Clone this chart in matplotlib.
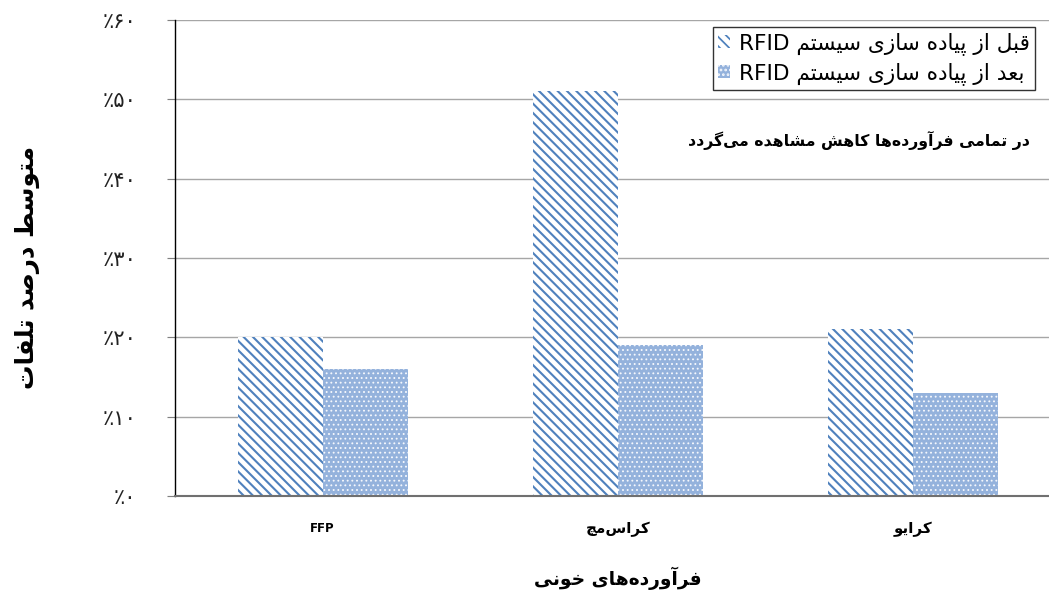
import matplotlib
matplotlib.use("Agg")
import matplotlib.pyplot as plt
import numpy as np

# ---------------- data ----------------
categories = ["FFP", "کراس‌مچ", "کرایو"]
before_rfid = [0.20, 0.51, 0.21]
after_rfid = [0.16, 0.19, 0.13]
y_ticks = [0.0, 0.1, 0.2, 0.3, 0.4, 0.5, 0.6]
y_tick_labels = ["٪۰", "٪۱۰", "٪۲۰", "٪۳۰", "٪۴۰", "٪۵۰", "٪۶۰"]
legend_before = "قبل از پیاده سازی سیستم"
legend_after = "بعد از پیاده سازی سیستم"
legend_suffix = "RFID"
note_text = "در تمامی فرآورده‌ها کاهش مشاهده می‌گردد"
x_title = "فرآورده‌های خونی"
y_title = "متوسط درصد تلفات"

# ------------- minimal Persian shaping -------------
FORMS = {
    '\u0627': ('\uFE8D', '\uFE8E', None, None),
    '\u0622': ('\uFE81', '\uFE82', None, None),
    '\u0628': ('\uFE8F', '\uFE90', '\uFE91', '\uFE92'),
    '\u067E': ('\uFB56', '\uFB57', '\uFB58', '\uFB59'),
    '\u062A': ('\uFE95', '\uFE96', '\uFE97', '\uFE98'),
    '\u0686': ('\uFB7A', '\uFB7B', '\uFB7C', '\uFB7D'),
    '\u062E': ('\uFEA5', '\uFEA6', '\uFEA7', '\uFEA8'),
    '\u062F': ('\uFEA9', '\uFEAA', None, None),
    '\u0631': ('\uFEAD', '\uFEAE', None, None),
    '\u0632': ('\uFEAF', '\uFEB0', None, None),
    '\u0633': ('\uFEB1', '\uFEB2', '\uFEB3', '\uFEB4'),
    '\u0634': ('\uFEB5', '\uFEB6', '\uFEB7', '\uFEB8'),
    '\u0635': ('\uFEB9', '\uFEBA', '\uFEBB', '\uFEBC'),
    '\u0637': ('\uFEC1', '\uFEC2', '\uFEC3', '\uFEC4'),
    '\u0639': ('\uFEC9', '\uFECA', '\uFECB', '\uFECC'),
    '\u0641': ('\uFED1', '\uFED2', '\uFED3', '\uFED4'),
    '\u0642': ('\uFED5', '\uFED6', '\uFED7', '\uFED8'),
    '\u06A9': ('\uFB8E', '\uFB8F', '\uFB90', '\uFB91'),
    '\u06AF': ('\uFB92', '\uFB93', '\uFB94', '\uFB95'),
    '\u0644': ('\uFEDD', '\uFEDE', '\uFEDF', '\uFEE0'),
    '\u0645': ('\uFEE1', '\uFEE2', '\uFEE3', '\uFEE4'),
    '\u0646': ('\uFEE5', '\uFEE6', '\uFEE7', '\uFEE8'),
    '\u0647': ('\uFEE9', '\uFEEA', '\uFEEB', '\uFEEC'),
    '\u0648': ('\uFEED', '\uFEEE', None, None),
    '\u06CC': ('\uFBFC', '\uFBFD', '\uFBFE', '\uFBFF'),
}


def fa(text):
    chars = list(text)
    out = []
    for i, c in enumerate(chars):
        if c == '\u200c':
            continue
        if c not in FORMS:
            out.append(c)
            continue
        iso, fin, ini, med = FORMS[c]
        prev = chars[i - 1] if i > 0 else None
        nxt = chars[i + 1] if i + 1 < len(chars) else None
        jp = prev in FORMS and FORMS[prev][2] is not None
        jn = nxt in FORMS and ini is not None
        if jp and jn:
            out.append(med)
        elif jp:
            out.append(fin)
        elif jn:
            out.append(ini)
        else:
            out.append(iso)
    return ''.join(out)[::-1]


def label(text):
    if all(ord(ch) < 128 for ch in text):
        return text
    return fa(text)


# ---------------- figure ----------------
DPI = 84
W, H = 1049, 590
fig = plt.figure(figsize=(W / DPI, H / DPI), dpi=DPI)
ax = fig.add_axes([175 / W, (H - 496) / H, 886 / W, 476 / H])

x = np.arange(len(categories))
bw = 0.288
blue = '#4f81bd'

plt.rcParams['hatch.linewidth'] = 1.8
b1 = ax.bar(x - bw / 2, before_rfid, bw, facecolor='white', edgecolor=blue,
            hatch='\\\\\\', linewidth=0, zorder=2)
plt.rcParams['hatch.linewidth'] = 0.9
b2 = ax.bar(x + bw / 2, after_rfid, bw, facecolor='#94b2dc', edgecolor='#f4f7fc',
            hatch='...', linewidth=0, zorder=2)

ax.set_xlim(-0.5, 2.5)
ax.set_ylim(0, 0.6)
ax.set_yticks(y_ticks)
ax.set_yticklabels(y_tick_labels, fontsize=18, family=['DejaVu Sans'], color='#222222')
ax.tick_params(axis='y', length=7, width=1, color='#808080', pad=26)
ax.set_xticks(x)
ax.set_xticklabels([label(c) for c in categories], fontweight='bold',
                   family=['DejaVu Sans'])
for t, c in zip(ax.get_xticklabels(), categories):
    t.set_fontsize(10 if c.isascii() else 13)
ax.tick_params(axis='x', length=0, pad=22)

ax.yaxis.grid(True, color='#a6a6a6', linewidth=1.2, zorder=0)
ax.set_axisbelow(True)
for s in ['top', 'right']:
    ax.spines[s].set_visible(False)
ax.spines['left'].set_color('black')
ax.spines['left'].set_linewidth(1.2)
ax.spines['bottom'].set_color('#707070')
ax.spines['bottom'].set_linewidth(1.8)

# legend
plt.rcParams['hatch.linewidth'] = 1.5
leg = ax.legend([b1, b2],
                [legend_suffix + ' ' + fa(legend_before), legend_suffix + ' ' + fa(legend_after)],
                loc='upper right', bbox_to_anchor=((1035 - 175) / 886, (496 - 27) / 476),
                borderaxespad=0, fancybox=False, framealpha=1, edgecolor='#333333',
                prop={'family': ['DejaVu Sans'], 'size': 18.5},
                handlelength=0.55, handleheight=0.55, handletextpad=0.4,
                labelspacing=0.3, borderpad=0.25)
leg.get_frame().set_linewidth(1.2)

# annotation
fig.text(1030 / W, 1 - 140 / H, fa(note_text), ha='right', va='center',
         fontsize=13.5, fontweight='bold', family=['DejaVu Sans'])

# axis titles
fig.text(618 / W, 1 - 578 / H, fa(x_title), ha='center', va='center',
         fontsize=16, fontweight='bold', family=['DejaVu Sans'])
fig.text(27 / W, 1 - 268 / H, fa(y_title), ha='center', va='center', rotation=90,
         fontsize=21, fontweight='bold', family=['DejaVu Sans'])

fig.savefig('out.png', dpi=DPI)
